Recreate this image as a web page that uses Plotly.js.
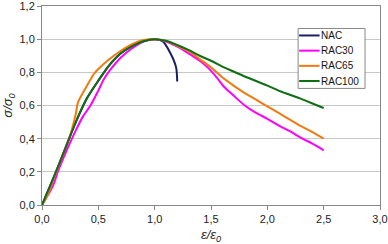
<!DOCTYPE html>
<html><head><meta charset="utf-8">
<script src="https://cdn.plot.ly/plotly-3.0.1.min.js"></script>
<style>html,body{margin:0;padding:0;background:#fff}#c{width:388px;height:244px}</style>
</head><body><div id="c"></div>
<script>
const seriesNames = ['NAC', 'RAC30', 'RAC65', 'RAC100'];
const nacX = [0, 0.1, 0.2, 0.3, 0.4, 0.5, 0.6, 0.7, 0.8, 0.9, 1.0, 1.07, 1.14, 1.19, 1.2];
const nacY = [0, 0.16, 0.33, 0.5, 0.645, 0.75, 0.845, 0.915, 0.958, 0.988, 1.0, 0.988, 0.915, 0.83, 0.745];
const rac30X = [0, 0.1, 0.14, 0.2, 0.3, 0.36, 0.43, 0.5, 0.55, 0.61, 0.7, 0.8, 0.9, 1.0, 1.1, 1.2, 1.3, 1.4, 1.47, 1.55, 1.62, 1.7, 1.8, 1.9, 2.0, 2.1, 2.2, 2.3, 2.4, 2.5];
const rac30Y = [0, 0.12, 0.2, 0.3, 0.45, 0.53, 0.6, 0.69, 0.76, 0.82, 0.89, 0.945, 0.985, 1.0, 0.985, 0.955, 0.915, 0.87, 0.83, 0.77, 0.71, 0.66, 0.6, 0.555, 0.52, 0.48, 0.445, 0.405, 0.37, 0.33];
const rac65X = [0, 0.05, 0.1, 0.2, 0.25, 0.3, 0.32, 0.4, 0.46, 0.5, 0.6, 0.7, 0.8, 0.9, 1.0, 1.1, 1.2, 1.32, 1.4, 1.5, 1.6, 1.7, 1.8, 1.9, 2.0, 2.1, 2.2, 2.3, 2.4, 2.5];
const rac65Y = [0, 0.06, 0.15, 0.33, 0.42, 0.55, 0.62, 0.72, 0.79, 0.82, 0.88, 0.93, 0.97, 0.995, 1.0, 0.99, 0.96, 0.92, 0.88, 0.83, 0.77, 0.72, 0.675, 0.635, 0.595, 0.555, 0.515, 0.475, 0.44, 0.4];
const rac100X = [0, 0.1, 0.2, 0.3, 0.4, 0.5, 0.6, 0.7, 0.8, 0.9, 1.0, 1.1, 1.2, 1.3, 1.4, 1.5, 1.6, 1.7, 1.8, 1.9, 2.0, 2.1, 2.2, 2.3, 2.4, 2.5];
const rac100Y = [0, 0.16, 0.33, 0.5, 0.645, 0.75, 0.845, 0.915, 0.958, 0.988, 1.0, 0.99, 0.965, 0.935, 0.9, 0.87, 0.835, 0.805, 0.775, 0.748, 0.72, 0.69, 0.665, 0.64, 0.612, 0.585];
const colors = ['#1a1f66', '#ff00ff', '#f07a10', '#0e6e12'];
const xs = [nacX, rac30X, rac65X, rac100X];
const ys = [nacY, rac30Y, rac65Y, rac100Y];

const traces = seriesNames.map((n, i) => ({
  x: xs[i], y: ys[i], name: n, type: 'scatter', mode: 'lines',
  line: {color: colors[i], width: 2, shape: 'spline', smoothing: 0.8}
}));

// plot area in pixels
const W = 388, H = 244, L = 41.5, R = 8, T = 5.5, B = 39.3;
const pw = W - L - R, ph = H - T - B;
const px = v => (v - L) / pw;
const py = v => (H - B - v) / ph;

// spreadsheet-style legend box
const shapes = [{type: 'rect', xref: 'paper', yref: 'paper',
  x0: px(298), x1: px(365), y0: py(88), y1: py(28),
  fillcolor: '#fff', line: {color: '#888', width: 1}, layer: 'above'}];
const annotations = [];
seriesNames.forEach((n, i) => {
  const yc = 35 + i * 15.2;
  shapes.push({type: 'line', xref: 'paper', yref: 'paper',
    x0: px(299), x1: px(319.5), y0: py(yc), y1: py(yc),
    line: {color: colors[i], width: 2}, layer: 'above'});
  annotations.push({xref: 'paper', yref: 'paper', x: px(319), y: py(yc),
    xanchor: 'left', yanchor: 'middle', showarrow: false, text: n,
    font: {family: 'Liberation Sans, Arial, sans-serif', size: 10, color: '#111'}});
});

const font = {family: 'Liberation Sans, Arial, sans-serif', size: 11, color: '#222'};
const layout = {
  width: W, height: H,
  margin: {l: L, r: R, t: T, b: B},
  paper_bgcolor: '#fff', plot_bgcolor: '#fff',
  separators: ',.',
  font: font,
  showlegend: false,
  shapes: shapes, annotations: annotations,
  xaxis: {range: [0, 3], dtick: 0.5, tick0: 0, tickformat: '.1f',
    showgrid: false, zeroline: false, showline: true, linecolor: '#888', linewidth: 1, mirror: true,
    ticks: 'outside', ticklen: 4, tickcolor: '#888', ticklabeloverflow: 'allow',
    title: {text: '<i>ε/ε<sub>0</sub></i>', font: {size: 13}, standoff: 6}},
  yaxis: {range: [0, 1.2001], dtick: 0.2, tick0: 0, tickformat: '.1f',
    showgrid: true, gridcolor: '#c8c8c8', zeroline: false, showline: true, linecolor: '#888', linewidth: 1, mirror: true,
    ticks: 'outside', ticklen: 4, tickcolor: '#888', ticklabeloverflow: 'allow',
    title: {text: '<i>σ/σ<sub>0</sub></i>', font: {size: 13}, standoff: 4}}
};
Plotly.newPlot('c', traces, layout, {staticPlot: true, displayModeBar: false});
</script></body></html>
